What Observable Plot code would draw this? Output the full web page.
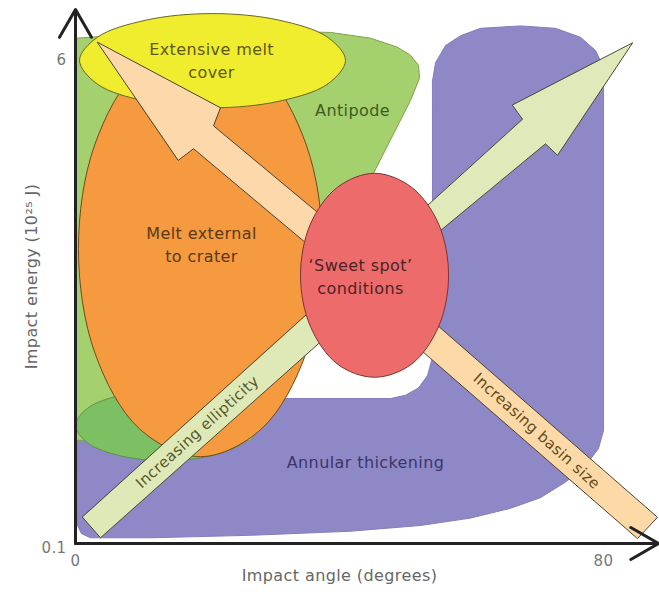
<!DOCTYPE html>
<html>
<head>
<meta charset="utf-8">
<script src="https://cdn.jsdelivr.net/npm/d3@7"></script>
<script src="https://cdn.jsdelivr.net/npm/@observablehq/plot@0.6"></script>
<style>
  html, body { margin: 0; padding: 0; background: #fff; }
</style>
</head>
<body>
<div id="chart"></div>
<script>
// ---- Axes ----
const xDomain = [0, 88.33];          // impact angle (degrees)
const yDomain = [0.1, 6.62];         // impact energy (10^25 J)
const xTicks = [0, 80];
const yTicks = [6, 0.1];
const xLabel = "Impact angle (degrees)";
const yLabel = "Impact energy (10²⁵ J)";

// ---- Regions (outline points in angle / energy units) ----
const annularX = [54.09, 54.55, 56.06, 58.33, 61.36, 67.42, 72.73, 76.52, 78.79, 79.85, 80.0, 80.0, 79.24, 77.27, 74.24, 70.45, 65.91, 59.85, 52.27, 41.67, 26.52, 11.36, 2.27, 0.91, 0.30, 0.15, 47.73, 50.0, 51.97, 53.33, 53.94, 54.09];
const annularY = [5.75, 5.97, 6.18, 6.30, 6.39, 6.42, 6.39, 6.28, 6.12, 5.94, 5.69, 1.48, 1.26, 1.05, 0.85, 0.66, 0.53, 0.41, 0.32, 0.25, 0.20, 0.17, 0.17, 0.22, 0.32, 1.87, 1.87, 1.91, 2.00, 2.15, 2.33, 2.58];

const antipodeX = [0.15, 11.36, 26.52, 38.64, 44.70, 48.79, 50.76, 51.97, 52.12, 50.76, 45.15, 38.64, 34.09, 31.82, 26.52, 0.15];
const antipodeY = [6.27, 6.33, 6.36, 6.34, 6.27, 6.16, 6.06, 5.94, 5.78, 5.51, 4.62, 3.56, 2.70, 2.09, 1.36, 1.36];

const lowGreenX = [27.27, 25.45, 20.45, 13.64, 6.82, 1.82, 0, 1.82, 6.82, 13.64, 20.45, 25.45];
const lowGreenY = [1.54, 1.33, 1.17, 1.11, 1.17, 1.33, 1.54, 1.75, 1.91, 1.97, 1.91, 1.75];

const meltX = [37.42, 34.95, 28.18, 18.94, 9.70, 2.92, 0.45, 2.92, 9.70, 18.94, 28.18, 34.95];
const meltY = [3.70, 2.43, 1.50, 1.16, 1.50, 2.43, 3.70, 4.97, 5.90, 6.24, 5.90, 4.97];

const coverX = [40.91, 38.21, 30.83, 20.76, 10.68, 3.30, 0.61, 3.30, 10.68, 20.76, 30.83, 38.21];
const coverY = [6.00, 5.71, 5.50, 5.42, 5.50, 5.71, 6.00, 6.28, 6.49, 6.57, 6.49, 6.28];

const sweetX = [56.52, 55.02, 50.91, 45.30, 39.70, 35.59, 34.09, 35.59, 39.70, 45.30, 50.91, 55.02];
const sweetY = [3.37, 2.75, 2.29, 2.13, 2.29, 2.75, 3.37, 4.00, 4.45, 4.62, 4.45, 4.00];

// ---- Trend arrows / bars ----
const arrowUpLeftX = [3.33, 21.97, 20.91, 38.64, 36.82, 17.88, 15.61];
const arrowUpLeftY = [6.22, 5.42, 5.20, 4.01, 3.64, 4.92, 4.78];

const arrowUpRightX = [84.39, 73.03, 71.21, 53.79, 52.27, 67.73, 66.21];
const arrowUpRightY = [6.21, 4.84, 4.98, 3.82, 4.15, 5.28, 5.45];

const barEllipX = [1.06, 3.79, 42.12, 39.39];
const barEllipY = [0.42, 0.17, 2.92, 3.21];

const barBasinX = [46.21, 88.18, 85.15, 43.94];
const barBasinY = [3.37, 0.42, 0.16, 3.05];

// ---- Labels ----
const regionLabels = ["Extensive melt\ncover", "Antipode", "Melt external\nto crater", "‘Sweet spot’\nconditions", "Annular thickening"];
const regionLabelX = [20.61, 41.97, 19.09, 43.18, 43.94];
const regionLabelY = [6.01, 5.41, 3.77, 3.38, 1.11];
const regionLabelColor = ["#5c5816", "#3f5a1f", "#5a3818", "#4a2424", "#3a3668"];

const barLabels = ["Increasing ellipticity", "Increasing basin size"];
const barLabelX = [18.48, 69.85];
const barLabelY = [1.46, 1.47];
const barLabelAngle = [-42, 42];
const barLabelColor = ["#55582a", "#5e4c1c"];

// ---- build tables ----
const pts = (xs, ys) => xs.map((x, i) => ({x, y: ys[i]}));
const axisLines = [
  {x1: xDomain[0], y1: yDomain[0], x2: xDomain[1], y2: yDomain[0]},
  {x1: xDomain[0], y1: yDomain[0], x2: xDomain[0], y2: yDomain[1]}
];
const regionTable = regionLabels.map((t, i) => ({t, x: regionLabelX[i], y: regionLabelY[i], c: regionLabelColor[i]}));
const barTable = barLabels.map((t, i) => ({t, x: barLabelX[i], y: barLabelY[i], a: barLabelAngle[i], c: barLabelColor[i]}));

const shape = (xs, ys, fill, stroke, curve, extra = {}) =>
  Plot.line(pts(xs, ys), {x: "x", y: "y", fill, stroke, strokeWidth: 1, curve, ...extra});

const fmt = d => String(d);

const chart = Plot.plot({
  width: 659,
  height: 594,
  marginLeft: 75,
  marginRight: 1,
  marginTop: 9,
  marginBottom: 51,
  style: "font-family: 'DejaVu Sans', sans-serif; letter-spacing: 0.4px; background: #fff; overflow: visible;",
  x: {domain: xDomain},
  y: {domain: yDomain},
  marks: [
    shape(annularX, annularY, "#8f88c6", "#857dbb", "linear-closed"),
    shape(antipodeX, antipodeY, "#a4d06e", "#7f9f4f", "linear-closed"),
    shape(lowGreenX, lowGreenY, "#7dc063", "#5f9148", "catmull-rom-closed", {clip: true}),
    shape(meltX, meltY, "#f59a3e", "#6e4a1e", "catmull-rom-closed"),
    shape(coverX, coverY, "#f0ec2e", "#6a6620", "catmull-rom-closed"),
    shape(barEllipX, barEllipY, "#dfe9b7", "#4a4a36", "linear-closed"),
    shape(barBasinX, barBasinY, "#fcd9a6", "#4a4236", "linear-closed"),
    shape(arrowUpLeftX, arrowUpLeftY, "#fdd8aa", "#4a4236", "linear-closed"),
    shape(arrowUpRightX, arrowUpRightY, "#dfe9b9", "#4a4a36", "linear-closed"),
    shape(sweetX, sweetY, "#ee6b6c", "#7a3535", "catmull-rom-closed"),
    Plot.text(regionTable, {x: "x", y: "y", text: "t", fill: "c", fontSize: 16, lineHeight: 1.45}),
    Plot.text(barTable, {x: "x", y: "y", text: "t", fill: "c", rotate: "a", fontSize: 15}),
    Plot.arrow(axisLines, {x1: "x1", y1: "y1", x2: "x2", y2: "y2", stroke: "#222", strokeWidth: 3, headLength: 16, headAngle: 60}),
    Plot.axisX(xTicks, {tickSize: 0, tickPadding: 12, fontSize: 15, color: "#777", label: null, tickFormat: fmt}),
    Plot.axisY([yTicks[0]], {tickSize: 0, tickPadding: 9, fontSize: 15, color: "#777", label: null, tickFormat: fmt}),
    Plot.axisY([yTicks[1]], {tickSize: 0, tickPadding: 9, fontSize: 15, color: "#777", label: null, tickFormat: fmt, dy: 5}),
    Plot.text([xLabel], {x: d3.mean(xTicks), frameAnchor: "bottom", dy: 37, text: d => d, fill: "#666", fontSize: 16}),
    Plot.text([yLabel], {frameAnchor: "left", textAnchor: "middle", dx: -44, rotate: -90, text: d => d, fill: "#666", fontSize: 16})
  ]
});
document.getElementById("chart").appendChild(chart);
</script>
</body>
</html>
